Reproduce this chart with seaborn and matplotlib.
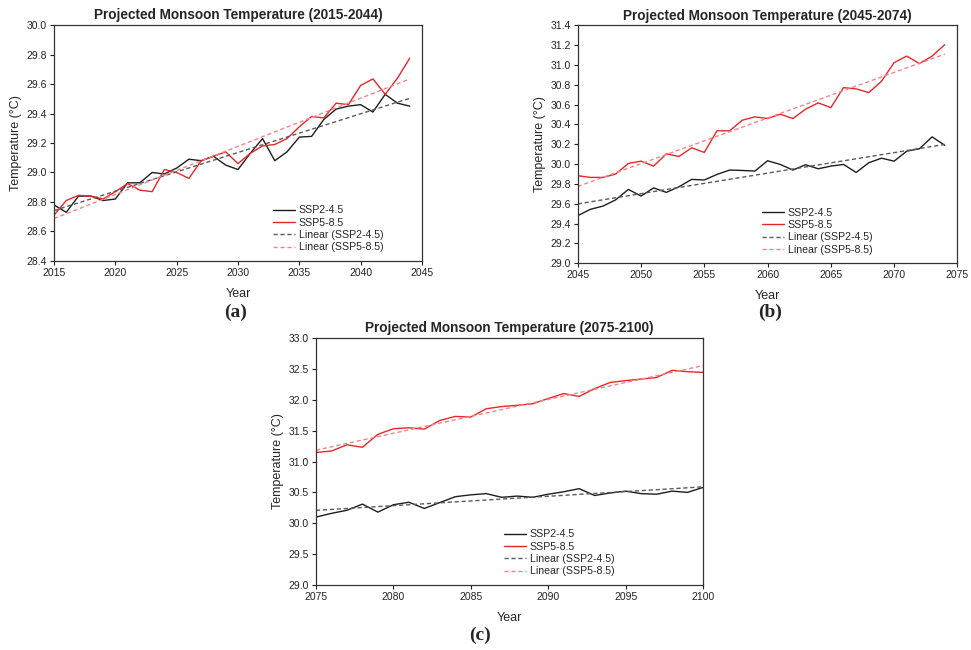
"""
Projected monsoon temperature under SSP2-4.5 and SSP5-8.5, three periods.
"""
import matplotlib
matplotlib.use("Agg")
import matplotlib.pyplot as plt
import seaborn as sns
import numpy as np

# Panel (a) 2015-2044
years_a = list(range(2015, 2045))
ssp245_a = [28.78, 28.73, 28.84, 28.84, 28.81, 28.82, 28.93, 28.93, 29.00, 28.99,
            29.03, 29.09, 29.08, 29.11, 29.05, 29.02, 29.13, 29.23, 29.08, 29.14,
            29.24, 29.245, 29.36, 29.43, 29.45, 29.46, 29.41, 29.53, 29.47, 29.45]
ssp585_a = [28.71, 28.81, 28.845, 28.84, 28.82, 28.87, 28.925, 28.88, 28.87, 29.02,
            29.00, 28.96, 29.08, 29.11, 29.14, 29.06, 29.13, 29.18, 29.19, 29.23,
            29.31, 29.38, 29.37, 29.47, 29.46, 29.59, 29.635, 29.53, 29.64, 29.775]

# Panel (b) 2045-2074
years_b = list(range(2045, 2075))
ssp245_b = [29.48, 29.544, 29.577, 29.64, 29.745, 29.678, 29.76, 29.715, 29.772, 29.846,
            29.84, 29.896, 29.94, 29.936, 29.93, 30.034, 29.997, 29.94, 29.994, 29.953,
            29.98, 29.997, 29.916, 30.014, 30.06, 30.03, 30.131, 30.155, 30.275, 30.19]
ssp585_b = [29.883, 29.866, 29.866, 29.90, 30.007, 30.03, 29.98, 30.104, 30.077, 30.165,
            30.118, 30.336, 30.336, 30.443, 30.477, 30.46, 30.504, 30.46, 30.554, 30.618,
            30.57, 30.772, 30.759, 30.722, 30.836, 31.024, 31.09, 31.014, 31.09, 31.205]

# Panel (c) 2075-2100
years_c = list(range(2075, 2101))
ssp245_c = [30.10, 30.16, 30.21, 30.31, 30.18, 30.30, 30.34, 30.24, 30.335, 30.43,
            30.46, 30.48, 30.42, 30.44, 30.42, 30.47, 30.51, 30.56, 30.45, 30.49,
            30.52, 30.48, 30.47, 30.52, 30.50, 30.58]
ssp585_c = [31.146, 31.17, 31.27, 31.23, 31.44, 31.53, 31.546, 31.524, 31.665, 31.73,
            31.72, 31.854, 31.89, 31.91, 31.935, 32.02, 32.10, 32.054, 32.18, 32.28,
            32.31, 32.335, 32.36, 32.476, 32.454, 32.443]

series_names = ["SSP2-4.5", "SSP5-8.5"]

sns.set_theme(style="white")
plt.rcParams["font.family"] = ["Liberation Sans", "DejaVu Sans"]

BLACK = "#1e1e1e"
RED = "#e8262a"
TREND_BLACK = "#5a5a5a"
TREND_RED = "#f4848a"


def draw_panel(ax, years, low, high, title, yticks, xticks, legend_right):
    sns.lineplot(x=years, y=low, color=BLACK, lw=1.0, ax=ax)
    sns.lineplot(x=years, y=high, color=RED, lw=1.0, ax=ax)
    sns.regplot(x=years, y=low, scatter=False, ci=None, color=TREND_BLACK, ax=ax,
                line_kws={"ls": (0, (3, 2)), "lw": 1.0})
    sns.regplot(x=years, y=high, scatter=False, ci=None, color=TREND_RED, ax=ax,
                line_kws={"ls": (0, (3, 2)), "lw": 1.0})

    labels = series_names + [f"Linear ({n})" for n in series_names]
    handles = ax.get_lines()[:4]
    for h, lab in zip(handles, labels):
        h.set_label(lab)

    ax.set_xlim(xticks[0], xticks[-1])
    ax.set_ylim(yticks[0], yticks[-1])
    ax.set_xticks(xticks)
    ax.set_yticks(yticks)
    ax.set_yticklabels([f"{v:.1f}" for v in yticks])
    ax.tick_params(labelsize=7.5, length=3, width=0.8, direction="out", pad=2,
                   colors="#222222", bottom=True, left=True)
    ax.set_title(title, fontsize=9.8, fontweight="bold", pad=4)
    ax.set_xlabel("Year", fontsize=9, labelpad=7)
    ax.set_ylabel("Temperature (°C)", fontsize=9, labelpad=3)
    for sp in ax.spines.values():
        sp.set_color("#333333")
        sp.set_linewidth(0.9)

    ax.legend(handles, labels, loc="lower right", bbox_to_anchor=(legend_right, 0.005),
              frameon=False, fontsize=7.6, handlelength=2.1, handletextpad=0.35,
              labelspacing=0.22, borderpad=0.2)


fig = plt.figure(figsize=(9.71, 6.5), dpi=100)

ax_a = fig.add_axes([0.0556, 0.5985, 0.379, 0.363])
draw_panel(ax_a, years_a, ssp245_a, ssp585_a, "Projected Monsoon Temperature (2015-2044)",
           np.round(np.arange(28.4, 30.01, 0.2), 1), list(range(2015, 2046, 5)), 0.915)

ax_b = fig.add_axes([0.595, 0.595, 0.391, 0.366])
draw_panel(ax_b, years_b, ssp245_b, ssp585_b, "Projected Monsoon Temperature (2045-2074)",
           np.round(np.arange(29.0, 31.41, 0.2), 1), list(range(2045, 2076, 5)), 0.795)

ax_c = fig.add_axes([0.3254, 0.10, 0.3986, 0.38])
draw_panel(ax_c, years_c, ssp245_c, ssp585_c, "Projected Monsoon Temperature (2075-2100)",
           np.round(np.arange(29.0, 33.01, 0.5), 1), list(range(2075, 2101, 5)), 0.79)

# Panel letters
for txt, x, y in [("(a)", 236, 312), ("(b)", 770, 312), ("(c)", 480, 635)]:
    fig.text(x / 971, 1 - y / 650, txt, ha="center", va="center", fontsize=14,
             fontweight="bold", family=["Liberation Serif", "DejaVu Serif"])

fig.savefig("out.png", dpi=100)
plt.close(fig)
